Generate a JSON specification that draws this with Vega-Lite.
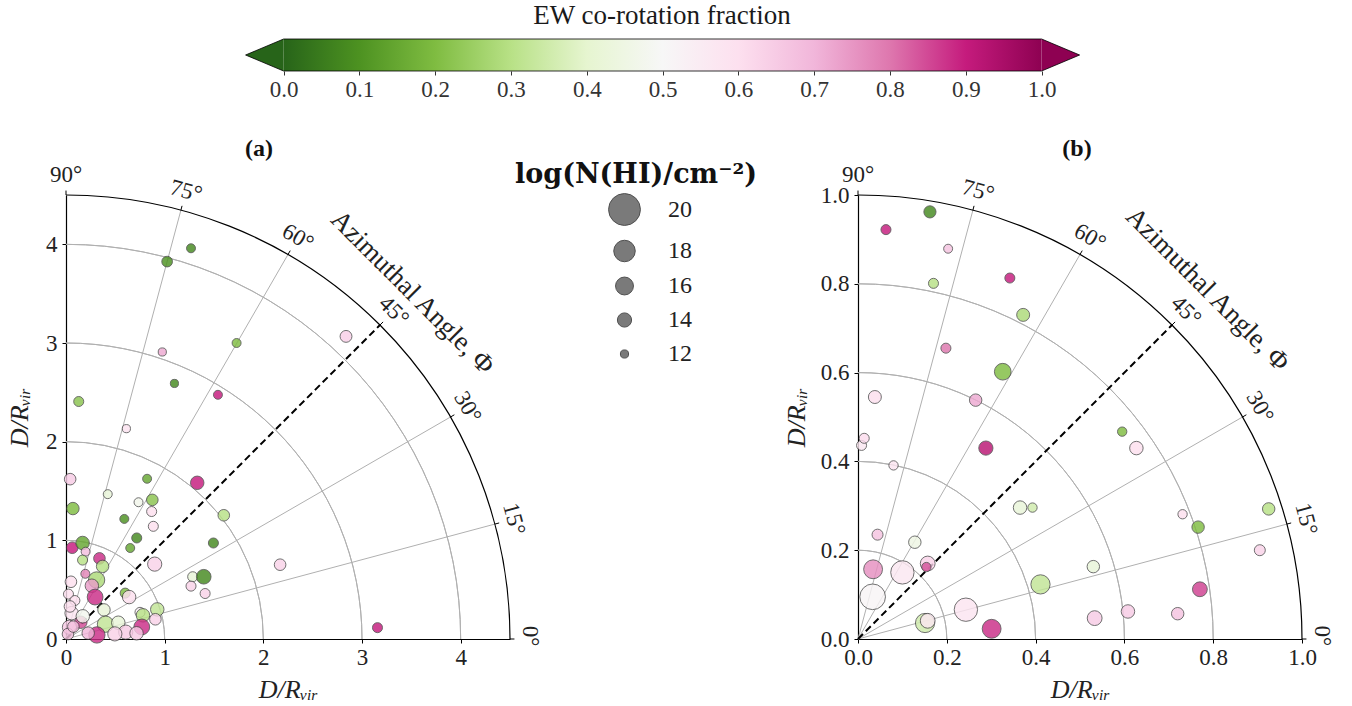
{
  "$schema": "https://vega.github.io/schema/vega-lite/v6.json",
  "background": "white",
  "padding": {"left": 6, "top": 2, "right": 5, "bottom": 5},
  "config": {"view": {"stroke": null}, "font": "Liberation Serif"},
  "datasets": {
    "ptsA": [
      {"x":1.267,"y":3.960,"f":0.08,"n":12.2},{"x":1.025,"y":3.825,"f":0.1,"n":12.7},{"x":1.729,"y":3.0,"f":0.2,"n":12.2},
      {"x":2.838,"y":3.067,"f":0.64,"n":13.1},{"x":0.976,"y":2.909,"f":0.72,"n":12.0},{"x":1.099,"y":2.59,"f":0.08,"n":12.0},
      {"x":1.540,"y":2.475,"f":0.9,"n":12.2},{"x":0.129,"y":2.407,"f":0.22,"n":12.5},{"x":0.612,"y":2.132,"f":0.59,"n":12.0},
      {"x":0.042,"y":1.620,"f":0.65,"n":13.0},{"x":0.822,"y":1.624,"f":0.15,"n":12.2},{"x":0.423,"y":1.468,"f":0.42,"n":12.2},
      {"x":1.330,"y":1.583,"f":0.9,"n":13.7},{"x":0.735,"y":1.386,"f":0.47,"n":12.2},{"x":0.875,"y":1.410,"f":0.22,"n":13.0},
      {"x":0.868,"y":1.292,"f":0.6,"n":12.5},{"x":0.885,"y":1.142,"f":0.6,"n":12.5},{"x":1.599,"y":1.254,"f":0.3,"n":13.0},
      {"x":0.070,"y":1.322,"f":0.2,"n":13.3},{"x":0.591,"y":1.217,"f":0.1,"n":12.2},{"x":0.717,"y":1.024,"f":0.08,"n":12.5},
      {"x":0.651,"y":0.922,"f":0.15,"n":12.2},{"x":1.494,"y":0.973,"f":0.08,"n":12.5},{"x":0.899,"y":0.759,"f":0.63,"n":14.0},
      {"x":2.170,"y":0.753,"f":0.63,"n":13.0},{"x":1.284,"y":0.631,"f":0.42,"n":12.5},{"x":1.396,"y":0.631,"f":0.08,"n":14.2},
      {"x":1.267,"y":0.536,"f":0.63,"n":12.5},{"x":1.410,"y":0.461,"f":0.63,"n":12.5},{"x":3.157,"y":0.115,"f":0.9,"n":12.5},
      {"x":0.063,"y":0.925,"f":0.9,"n":13.0},{"x":0.168,"y":0.973,"f":0.15,"n":13.7},{"x":0.199,"y":0.885,"f":0.68,"n":12.2},
      {"x":0.168,"y":0.800,"f":0.3,"n":12.5},{"x":0.339,"y":0.817,"f":0.88,"n":13.0},{"x":0.371,"y":0.736,"f":0.3,"n":13.3},
      {"x":0.196,"y":0.661,"f":0.78,"n":12.2},{"x":0.310,"y":0.598,"f":0.28,"n":15.1},{"x":0.262,"y":0.540,"f":0.74,"n":13.7},
      {"x":0.295,"y":0.425,"f":0.88,"n":14.8},{"x":0.600,"y":0.465,"f":0.2,"n":12.5},{"x":0.640,"y":0.425,"f":0.6,"n":13.7},
      {"x":0.050,"y":0.580,"f":0.6,"n":13.0},{"x":0.025,"y":0.455,"f":0.6,"n":12.5},{"x":0.090,"y":0.390,"f":0.6,"n":12.5},
      {"x":0.385,"y":0.295,"f":0.42,"n":13.3},{"x":0.750,"y":0.270,"f":0.53,"n":12.5},{"x":0.780,"y":0.240,"f":0.3,"n":13.7},
      {"x":0.925,"y":0.300,"f":0.32,"n":13.7},{"x":0.906,"y":0.200,"f":0.63,"n":13.0},{"x":0.400,"y":0.150,"f":0.32,"n":15.1},
      {"x":0.530,"y":0.165,"f":0.42,"n":13.7},{"x":0.768,"y":0.122,"f":0.88,"n":14.8},{"x":0.605,"y":0.070,"f":0.65,"n":14.0},
      {"x":0.715,"y":0.058,"f":0.65,"n":13.7},{"x":0.495,"y":0.052,"f":0.63,"n":14.0},{"x":0.313,"y":0.041,"f":0.88,"n":15.1},
      {"x":0.150,"y":0.170,"f":0.85,"n":13.3},{"x":0.057,"y":0.262,"f":0.58,"n":13.7},{"x":0.035,"y":0.119,"f":0.65,"n":14.0},
      {"x":0.170,"y":0.230,"f":0.48,"n":13.7},{"x":0.225,"y":0.060,"f":0.7,"n":13.3},{"x":0.020,"y":0.050,"f":0.67,"n":13.0},
      {"x":0.075,"y":0.126,"f":0.67,"n":13.0},{"x":0.040,"y":0.330,"f":0.6,"n":13.0}
    ],
    "ptsB": [
      {"x":0.162,"y":0.962,"f":0.08,"n":13.2},{"x":0.063,"y":0.922,"f":0.9,"n":12.5},{"x":0.203,"y":0.879,"f":0.67,"n":12.2},
      {"x":0.170,"y":0.801,"f":0.3,"n":12.5},{"x":0.342,"y":0.813,"f":0.9,"n":12.5},{"x":0.372,"y":0.730,"f":0.28,"n":13.5},
      {"x":0.198,"y":0.655,"f":0.8,"n":12.5},{"x":0.326,"y":0.602,"f":0.2,"n":15.3},{"x":0.038,"y":0.545,"f":0.6,"n":13.5},
      {"x":0.265,"y":0.538,"f":0.72,"n":13.3},{"x":0.595,"y":0.467,"f":0.2,"n":12.3},{"x":0.627,"y":0.430,"f":0.6,"n":13.7},
      {"x":0.288,"y":0.430,"f":0.92,"n":14.0},{"x":0.008,"y":0.436,"f":0.57,"n":12.5},{"x":0.014,"y":0.452,"f":0.61,"n":12.5},
      {"x":0.080,"y":0.391,"f":0.58,"n":12.3},{"x":0.365,"y":0.296,"f":0.42,"n":13.7},{"x":0.393,"y":0.296,"f":0.35,"n":12.3},
      {"x":0.731,"y":0.281,"f":0.6,"n":12.3},{"x":0.766,"y":0.252,"f":0.2,"n":13.3},{"x":0.925,"y":0.293,"f":0.3,"n":13.3},
      {"x":0.905,"y":0.200,"f":0.63,"n":12.8},{"x":0.044,"y":0.235,"f":0.67,"n":12.8},{"x":0.128,"y":0.218,"f":0.45,"n":13.3},
      {"x":0.034,"y":0.157,"f":0.76,"n":16.5},{"x":0.100,"y":0.150,"f":0.57,"n":18.3},{"x":0.157,"y":0.170,"f":0.63,"n":14.3},
      {"x":0.154,"y":0.162,"f":0.84,"n":12.3},{"x":0.033,"y":0.095,"f":0.51,"n":18.7},{"x":0.151,"y":0.036,"f":0.35,"n":16.7},
      {"x":0.157,"y":0.041,"f":0.57,"n":14.3},{"x":0.243,"y":0.066,"f":0.58,"n":18.3},{"x":0.301,"y":0.023,"f":0.88,"n":16.5},
      {"x":0.411,"y":0.123,"f":0.32,"n":16.7},{"x":0.530,"y":0.163,"f":0.42,"n":13.3},{"x":0.533,"y":0.047,"f":0.65,"n":14.3},
      {"x":0.608,"y":0.062,"f":0.65,"n":13.7},{"x":0.720,"y":0.057,"f":0.67,"n":13.3},{"x":0.770,"y":0.112,"f":0.86,"n":14.3}
    ],
    "gridArcsA": [{"x":0,"y":0,"r":1,"t0":0,"t1":90},{"x":0,"y":0,"r":2,"t0":0,"t1":90},{"x":0,"y":0,"r":3,"t0":0,"t1":90},{"x":0,"y":0,"r":4,"t0":0,"t1":90}],
    "outerArcA": [{"x":0,"y":0,"r":4.5,"t0":0,"t1":90}],
    "gridArcsB": [{"x":0,"y":0,"r":0.2,"t0":0,"t1":90},{"x":0,"y":0,"r":0.4,"t0":0,"t1":90},{"x":0,"y":0,"r":0.6,"t0":0,"t1":90},{"x":0,"y":0,"r":0.8,"t0":0,"t1":90}],
    "outerArcB": [{"x":0,"y":0,"r":1,"t0":0,"t1":90}],
    "spokesA": [{"x":0,"y":0,"xe":4.3467,"ye":1.1647},{"x":0,"y":0,"xe":3.8971,"ye":2.25},{"x":0,"y":0,"xe":2.25,"ye":3.8971},{"x":0,"y":0,"xe":1.1647,"ye":4.3467}],
    "dashA": [{"x":0,"y":0,"xe":3.182,"ye":3.182}],
    "ticksA": [{"x":4.5,"y":0,"xe":4.545,"ye":0},{"x":4.3467,"y":1.1647,"xe":4.3901,"ye":1.1763},{"x":3.8971,"y":2.25,"xe":3.9361,"ye":2.2725},{"x":3.182,"y":3.182,"xe":3.2138,"ye":3.2138},{"x":2.25,"y":3.8971,"xe":2.2725,"ye":3.9361},{"x":1.1647,"y":4.3467,"xe":1.1763,"ye":4.3901},{"x":0,"y":4.5,"xe":0,"ye":4.545}],
    "spokesB": [{"x":0,"y":0,"xe":0.9659,"ye":0.2588},{"x":0,"y":0,"xe":0.866,"ye":0.5},{"x":0,"y":0,"xe":0.5,"ye":0.866},{"x":0,"y":0,"xe":0.2588,"ye":0.9659}],
    "dashB": [{"x":0,"y":0,"xe":0.7071,"ye":0.7071}],
    "ticksB": [{"x":1,"y":0,"xe":1.01,"ye":0},{"x":0.9659,"y":0.2588,"xe":0.9756,"ye":0.2614},{"x":0.866,"y":0.5,"xe":0.8747,"ye":0.505},{"x":0.7071,"y":0.7071,"xe":0.7142,"ye":0.7142},{"x":0.5,"y":0.866,"xe":0.505,"ye":0.8747},{"x":0.2588,"y":0.9659,"xe":0.2614,"ye":0.9756},{"x":0,"y":1,"xe":0,"ye":1.01}],
    "labA": [{"x":0,"y":4.7,"t":"90°","ang":0},{"x":1.2165,"y":4.5399,"t":"75°","ang":15},{"x":2.35,"y":4.0703,"t":"60°","ang":30},{"x":3.3234,"y":3.3234,"t":"45°","ang":45},{"x":4.0703,"y":2.35,"t":"30°","ang":60},{"x":4.5399,"y":1.2165,"t":"15°","ang":75},{"x":4.7,"y":0.03,"t":"0°","ang":90}],
    "labB": [{"x":0,"y":1.045,"t":"90°","ang":0},{"x":0.2705,"y":1.0094,"t":"75°","ang":15},{"x":0.5225,"y":0.905,"t":"60°","ang":30},{"x":0.7389,"y":0.7389,"t":"45°","ang":45},{"x":0.905,"y":0.5225,"t":"30°","ang":60},{"x":1.0094,"y":0.2705,"t":"15°","ang":75},{"x":1.045,"y":0.007,"t":"0°","ang":90}],
    "azA": [{"x":3.51,"y":3.51,"t":"Azimuthal Angle, Φ"}],
    "azB": [{"x":0.787,"y":0.787,"t":"Azimuthal Angle, Φ"}]
  },
  "bounds": "flush",
  "spacing": 124,
  "vconcat": [
    {
      "width": 1192,
      "height": 32,
      "title": {"text": "EW co-rotation fraction", "font": "Liberation Serif", "fontSize": 27, "fontWeight": "normal", "color": "#1a1a1a", "anchor": "middle", "frame": "group", "baseline": "alphabetic", "offset": -14},
      "layer": [
        {
          "data": {"values": [{"a": 0, "b": 1, "lo": 0, "hi": 1}]},
          "mark": {"type": "rect", "strokeWidth": 0, "fill": {"gradient": "linear", "x1": 0, "x2": 1, "y1": 0, "y2": 0, "stops": [
            {"offset": 0, "color": "#276419"}, {"offset": 0.1, "color": "#4d9221"}, {"offset": 0.2, "color": "#7fbc41"}, {"offset": 0.3, "color": "#b8e186"},
            {"offset": 0.4, "color": "#e6f5d0"}, {"offset": 0.5, "color": "#f7f7f7"}, {"offset": 0.6, "color": "#fde0ef"}, {"offset": 0.7, "color": "#f1b6da"},
            {"offset": 0.8, "color": "#de77ae"}, {"offset": 0.9, "color": "#c51b7d"}, {"offset": 1, "color": "#8e0152"}]}},
          "encoding": {
            "x": {"field": "a", "type": "quantitative", "scale": {"domain": [-0.28707, 1.28549], "nice": false, "zero": false},
              "axis": {"orient": "bottom", "values": [0, 0.1, 0.2, 0.3, 0.4, 0.5, 0.6, 0.7, 0.8, 0.9, 1.0], "format": ".1f", "domain": false, "grid": false, "tickSize": 4, "tickColor": "#000", "tickWidth": 0.8, "labelFont": "Liberation Serif", "labelFontSize": 23, "labelColor": "#333", "labelPadding": 3, "labelFlush": false, "title": null}},
            "x2": {"field": "b"},
            "y": {"field": "lo", "type": "quantitative", "scale": {"domain": [0, 1], "nice": false}, "axis": null},
            "y2": {"field": "hi"}
          }
        },
        {
          "data": {"values": [{"a": 0, "b": 1, "lo": 0}, {"a": 0, "b": 1, "lo": 1}]},
          "mark": {"type": "rule", "color": "#000", "strokeWidth": 0.8},
          "encoding": {
            "x": {"field": "a", "type": "quantitative"},
            "x2": {"field": "b"},
            "y": {"field": "lo", "type": "quantitative"}
          }
        },
        {
          "data": {"values": [{"a": 0, "lo": 0.5, "frac": 0, "side": "L"}, {"a": 1, "lo": 0.5, "frac": 1, "side": "R"}]},
          "mark": {"type": "point", "filled": true, "opacity": 1, "size": 1024, "stroke": "#000", "strokeWidth": 0.8},
          "encoding": {
            "x": {"field": "a", "type": "quantitative"},
            "y": {"field": "lo", "type": "quantitative"},
            "color": {"field": "frac", "type": "quantitative", "legend": null,
              "scale": {"type": "linear", "domain": [0, 0.1, 0.2, 0.3, 0.4, 0.5, 0.6, 0.7, 0.8, 0.9, 1], "range": ["#276419", "#4d9221", "#7fbc41", "#b8e186", "#e6f5d0", "#f7f7f7", "#fde0ef", "#f1b6da", "#de77ae", "#c51b7d", "#8e0152"], "interpolate": "rgb"}},
            "shape": {"field": "side", "type": "nominal", "legend": null, "scale": {"domain": ["L", "R"], "range": ["M0,-1L-2.375,0L0,1", "M0,-1L2.375,0L0,1"]}}
          }
        }
      ]
    },
    {
      "bounds": "flush",
      "spacing": 348,
      "hconcat": [
        {
          "width": 444,
          "height": 444,
          "title": {"text": "(a)", "font": "Liberation Serif", "fontSize": 24, "fontWeight": "bold", "color": "#111", "anchor": "middle", "frame": "group", "dx": -29, "offset": -16, "baseline": "alphabetic"},
          "encoding": {
            "x": {"field": "x", "type": "quantitative", "scale": {"domain": [0, 4.5], "nice": false, "zero": true},
              "axis": {"values": [0, 1, 2, 3, 4], "format": "d", "title": "D/Rᵥᵢᵣ", "grid": false, "domainColor": "#000", "domainWidth": 1.2, "tickColor": "#000", "tickSize": 4, "labelFont": "Liberation Serif", "labelFontSize": 23, "labelColor": "#222", "labelPadding": 3, "labelFlush": false, "titleFont": "Liberation Serif", "titleFontSize": 26, "titleFontStyle": "italic", "titleFontWeight": "normal", "titleColor": "#222", "titlePadding": 7}},
            "y": {"field": "y", "type": "quantitative", "scale": {"domain": [0, 4.5], "nice": false, "zero": true},
              "axis": {"values": [0, 1, 2, 3, 4], "format": "d", "title": "D/Rᵥᵢᵣ", "grid": false, "domainColor": "#000", "domainWidth": 1.2, "tickColor": "#000", "tickSize": 4, "labelFont": "Liberation Serif", "labelFontSize": 23, "labelColor": "#222", "labelPadding": 5, "labelFlush": false, "titleFont": "Liberation Serif", "titleFontSize": 26, "titleFontStyle": "italic", "titleFontWeight": "normal", "titleColor": "#222", "titlePadding": 13}}
          },
          "layer": [
            {
              "data": {"name": "gridArcsA"},
              "mark": {"type": "arc", "filled": false, "stroke": "#b0b0b0", "strokeWidth": 1},
              "encoding": {
                "theta": {"field": "t0", "type": "quantitative", "scale": {"domain": [0, 90], "range": [0, 1.5707963]}},
                "theta2": {"field": "t1"},
                "radius": {"field": "r", "type": "quantitative", "scale": {"type": "linear", "domain": [0, 4.5], "range": [0, 444], "zero": true, "nice": false}},
                "radius2": {"field": "r"}
              }
            },
            {
              "data": {"name": "spokesA"},
              "mark": {"type": "rule", "color": "#b0b0b0", "strokeWidth": 1},
              "encoding": {"x2": {"field": "xe"}, "y2": {"field": "ye"}}
            },
            {
              "data": {"name": "outerArcA"},
              "mark": {"type": "arc", "filled": false, "stroke": "#000", "strokeWidth": 1.2},
              "encoding": {
                "theta": {"field": "t0", "type": "quantitative", "scale": {"domain": [0, 90], "range": [0, 1.5707963]}},
                "theta2": {"field": "t1"},
                "radius": {"field": "r", "type": "quantitative", "scale": {"type": "linear", "domain": [0, 4.5], "range": [0, 444], "zero": true, "nice": false}},
                "radius2": {"field": "r"}
              }
            },
            {
              "data": {"name": "ticksA"},
              "mark": {"type": "rule", "color": "#000", "strokeWidth": 1},
              "encoding": {"x2": {"field": "xe"}, "y2": {"field": "ye"}}
            },
            {
              "data": {"name": "dashA"},
              "mark": {"type": "rule", "color": "#000", "strokeWidth": 2, "strokeDash": [7, 4]},
              "encoding": {"x2": {"field": "xe"}, "y2": {"field": "ye"}}
            },
            {
              "data": {"name": "ptsA"},
              "mark": {"type": "point", "shape": "circle", "filled": true, "opacity": 0.82, "stroke": "#404040", "strokeWidth": 0.9},
              "encoding": {
                "color": {"field": "f", "type": "quantitative", "legend": null,
                  "scale": {"type": "linear", "domain": [0, 0.1, 0.2, 0.3, 0.4, 0.5, 0.6, 0.7, 0.8, 0.9, 1], "range": ["#276419", "#4d9221", "#7fbc41", "#b8e186", "#e6f5d0", "#f7f7f7", "#fde0ef", "#f1b6da", "#de77ae", "#c51b7d", "#8e0152"], "interpolate": "rgb"}},
                "size": {"field": "n", "type": "quantitative",
                  "scale": {"type": "linear", "domain": [12, 14, 16, 18, 20], "range": [67, 202, 320, 462, 1018], "zero": false},
                  "legend": {"orient": "none", "legendX": 449, "legendY": 123, "values": [20, 18, 16, 14, 12], "title": "log(N(HI)/cm⁻²)", "titleFont": "DejaVu Serif", "titleFontSize": 27, "titleFontWeight": "bold", "titleColor": "#111", "titleLimit": 500, "titlePadding": 4, "labelFont": "Liberation Serif", "labelFontSize": 24, "labelColor": "#222", "symbolFillColor": "#7a7a7a", "symbolStrokeColor": "#505050", "symbolStrokeWidth": 1, "symbolOpacity": 1, "symbolOffset": 93, "labelOffset": 27, "rowPadding": 10, "padding": 0, "symbolType": "circle"}}
              }
            },
            {
              "data": {"name": "labA"},
              "mark": {"type": "text", "font": "Liberation Serif", "fontSize": 23, "color": "#222", "align": "center", "baseline": "middle"},
              "encoding": {"text": {"field": "t"}, "angle": {"field": "ang", "type": "quantitative", "scale": null}}
            },
            {
              "data": {"name": "azA"},
              "mark": {"type": "text", "font": "Liberation Serif", "fontSize": 27, "color": "#222", "align": "center", "baseline": "middle", "angle": 45},
              "encoding": {"text": {"field": "t"}}
            }
          ]
        },
        {
          "width": 444,
          "height": 444,
          "title": {"text": "(b)", "font": "Liberation Serif", "fontSize": 24, "fontWeight": "bold", "color": "#111", "anchor": "middle", "frame": "group", "dx": -3, "offset": -16, "baseline": "alphabetic"},
          "encoding": {
            "x": {"field": "x", "type": "quantitative", "scale": {"domain": [0, 1], "nice": false, "zero": true},
              "axis": {"values": [0, 0.2, 0.4, 0.6, 0.8, 1.0], "format": ".1f", "title": "D/Rᵥᵢᵣ", "grid": false, "domainColor": "#000", "domainWidth": 1.2, "tickColor": "#000", "tickSize": 4, "labelFont": "Liberation Serif", "labelFontSize": 23, "labelColor": "#222", "labelPadding": 3, "labelFlush": false, "titleFont": "Liberation Serif", "titleFontSize": 26, "titleFontStyle": "italic", "titleFontWeight": "normal", "titleColor": "#222", "titlePadding": 7}},
            "y": {"field": "y", "type": "quantitative", "scale": {"domain": [0, 1], "nice": false, "zero": true},
              "axis": {"values": [0, 0.2, 0.4, 0.6, 0.8, 1.0], "format": ".1f", "title": "D/Rᵥᵢᵣ", "grid": false, "domainColor": "#000", "domainWidth": 1.2, "tickColor": "#000", "tickSize": 4, "labelFont": "Liberation Serif", "labelFontSize": 23, "labelColor": "#222", "labelPadding": 5, "labelFlush": false, "titleFont": "Liberation Serif", "titleFontSize": 26, "titleFontStyle": "italic", "titleFontWeight": "normal", "titleColor": "#222", "titlePadding": 11}}
          },
          "layer": [
            {
              "data": {"name": "gridArcsB"},
              "mark": {"type": "arc", "filled": false, "stroke": "#b0b0b0", "strokeWidth": 1},
              "encoding": {
                "theta": {"field": "t0", "type": "quantitative", "scale": {"domain": [0, 90], "range": [0, 1.5707963]}},
                "theta2": {"field": "t1"},
                "radius": {"field": "r", "type": "quantitative", "scale": {"type": "linear", "domain": [0, 1], "range": [0, 444], "zero": true, "nice": false}},
                "radius2": {"field": "r"}
              }
            },
            {
              "data": {"name": "spokesB"},
              "mark": {"type": "rule", "color": "#b0b0b0", "strokeWidth": 1},
              "encoding": {"x2": {"field": "xe"}, "y2": {"field": "ye"}}
            },
            {
              "data": {"name": "outerArcB"},
              "mark": {"type": "arc", "filled": false, "stroke": "#000", "strokeWidth": 1.2},
              "encoding": {
                "theta": {"field": "t0", "type": "quantitative", "scale": {"domain": [0, 90], "range": [0, 1.5707963]}},
                "theta2": {"field": "t1"},
                "radius": {"field": "r", "type": "quantitative", "scale": {"type": "linear", "domain": [0, 1], "range": [0, 444], "zero": true, "nice": false}},
                "radius2": {"field": "r"}
              }
            },
            {
              "data": {"name": "ticksB"},
              "mark": {"type": "rule", "color": "#000", "strokeWidth": 1},
              "encoding": {"x2": {"field": "xe"}, "y2": {"field": "ye"}}
            },
            {
              "data": {"name": "dashB"},
              "mark": {"type": "rule", "color": "#000", "strokeWidth": 2, "strokeDash": [7, 4]},
              "encoding": {"x2": {"field": "xe"}, "y2": {"field": "ye"}}
            },
            {
              "data": {"name": "ptsB"},
              "mark": {"type": "point", "shape": "circle", "filled": true, "opacity": 0.82, "stroke": "#404040", "strokeWidth": 0.9},
              "encoding": {
                "color": {"field": "f", "type": "quantitative", "legend": null,
                  "scale": {"type": "linear", "domain": [0, 0.1, 0.2, 0.3, 0.4, 0.5, 0.6, 0.7, 0.8, 0.9, 1], "range": ["#276419", "#4d9221", "#7fbc41", "#b8e186", "#e6f5d0", "#f7f7f7", "#fde0ef", "#f1b6da", "#de77ae", "#c51b7d", "#8e0152"], "interpolate": "rgb"}},
                "size": {"field": "n", "type": "quantitative",
                  "scale": {"type": "linear", "domain": [12, 14, 16, 18, 20], "range": [67, 202, 320, 462, 1018], "zero": false},
                  "legend": {"orient": "none", "legendX": 449, "legendY": 123, "values": [20, 18, 16, 14, 12], "title": "log(N(HI)/cm⁻²)", "titleFont": "DejaVu Serif", "titleFontSize": 27, "titleFontWeight": "bold", "titleColor": "#111", "titleLimit": 500, "titlePadding": 4, "labelFont": "Liberation Serif", "labelFontSize": 24, "labelColor": "#222", "symbolFillColor": "#7a7a7a", "symbolStrokeColor": "#505050", "symbolStrokeWidth": 1, "symbolOpacity": 1, "symbolOffset": 93, "labelOffset": 27, "rowPadding": 10, "padding": 0, "symbolType": "circle"}}
              }
            },
            {
              "data": {"name": "labB"},
              "mark": {"type": "text", "font": "Liberation Serif", "fontSize": 23, "color": "#222", "align": "center", "baseline": "middle"},
              "encoding": {"text": {"field": "t"}, "angle": {"field": "ang", "type": "quantitative", "scale": null}}
            },
            {
              "data": {"name": "azB"},
              "mark": {"type": "text", "font": "Liberation Serif", "fontSize": 27, "color": "#222", "align": "center", "baseline": "middle", "angle": 45},
              "encoding": {"text": {"field": "t"}}
            }
          ]
        }
      ]
    }
  ]
}
